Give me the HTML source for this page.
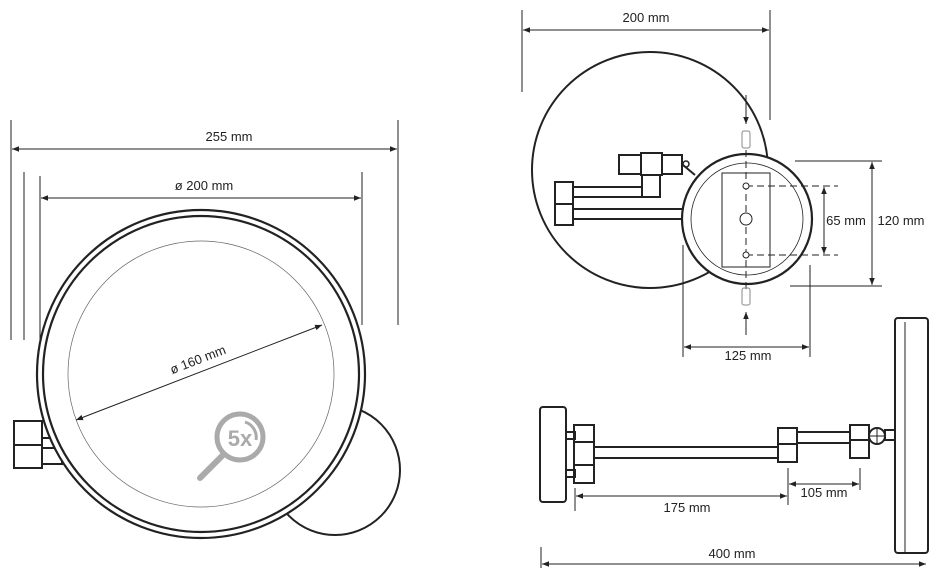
<!DOCTYPE html>
<html><head><meta charset="utf-8"><style>
html,body{margin:0;padding:0;background:#fff;}
svg{display:block;}
text{font-family:"Liberation Sans",sans-serif;fill:#222;}
</style></head><body>
<svg width="940" height="577" viewBox="0 0 940 577" xmlns="http://www.w3.org/2000/svg">
<defs>
<marker id="a" viewBox="0 0 10 10" refX="10" refY="5" markerWidth="7" markerHeight="7" orient="auto-start-reverse"><path d="M0,1 L10,5 L0,9 z" fill="#222"/></marker>
</defs>
<g stroke="#222" fill="none">
<!-- LEFT VIEW -->
<g stroke-width="1">
<line x1="11" y1="120" x2="11" y2="340"/>
<line x1="398" y1="120" x2="398" y2="325"/>
<line x1="24" y1="172" x2="24" y2="340"/>
<line x1="40" y1="176" x2="40" y2="345"/>
<line x1="362" y1="172" x2="362" y2="325"/>
<line x1="12" y1="149" x2="397" y2="149" marker-start="url(#a)" marker-end="url(#a)"/>
<line x1="41" y1="198" x2="361" y2="198" marker-start="url(#a)" marker-end="url(#a)"/>
</g>
<circle cx="335" cy="470" r="65" stroke-width="2" fill="#fff"/>
<rect x="14" y="421" width="28" height="24" stroke-width="2" fill="#fff"/>
<rect x="14" y="445" width="28" height="23" stroke-width="2" fill="#fff"/>
<rect x="42" y="438" width="20" height="10" stroke-width="2" fill="#fff"/>
<rect x="42" y="448" width="20" height="16" stroke-width="2" fill="#fff"/>
<circle cx="201" cy="374" r="164" stroke-width="2.2" fill="#fff"/>
<circle cx="201" cy="374" r="158" stroke-width="2.2"/>
<circle cx="201" cy="374" r="133" stroke-width="0.7" stroke="#666"/>
<line x1="76" y1="420" x2="322" y2="325" stroke-width="1" marker-start="url(#a)" marker-end="url(#a)"/>
<!-- 5x icon -->
<circle cx="240" cy="437" r="23" stroke="#aaa" stroke-width="5"/>
<line x1="222" y1="456" x2="200" y2="478" stroke="#aaa" stroke-width="6" stroke-linecap="round"/>
<path d="M245,422 A16,16 0 0 1 256,440" stroke="#aaa" stroke-width="3"/>

<!-- TOP RIGHT VIEW -->
<g stroke-width="1">
<line x1="522" y1="10" x2="522" y2="92"/>
<line x1="770" y1="10" x2="770" y2="120"/>
<line x1="523" y1="30" x2="769" y2="30" marker-start="url(#a)" marker-end="url(#a)"/>
</g>
<circle cx="650" cy="170" r="118" stroke-width="2" fill="#fff"/>
<rect x="619" y="155" width="22" height="19" stroke-width="2" fill="#fff"/>
<rect x="641" y="153" width="21" height="22" stroke-width="2" fill="#fff"/>
<rect x="662" y="155" width="20" height="19" stroke-width="2" fill="#fff"/>
<rect x="642" y="175" width="18" height="22" stroke-width="2" fill="#fff"/>
<line x1="683" y1="165" x2="695" y2="175" stroke-width="2"/>
<circle cx="686" cy="164" r="3" stroke-width="1.5"/>
<rect x="555" y="182" width="18" height="22" stroke-width="2" fill="#fff"/>
<rect x="555" y="204" width="18" height="21" stroke-width="2" fill="#fff"/>
<rect x="573" y="187" width="69" height="10" stroke-width="2" fill="#fff"/>
<rect x="573" y="209" width="112" height="10" stroke-width="2" fill="#fff"/>
<circle cx="747" cy="219" r="65" stroke-width="2.2" fill="#fff"/>
<circle cx="747" cy="219" r="56" stroke-width="0.8"/>
<rect x="722" y="173" width="48" height="94" stroke-width="1"/>
<line x1="746" y1="150" x2="746" y2="290" stroke-width="1" stroke-dasharray="7,4"/>
<line x1="746" y1="186" x2="838" y2="186" stroke-width="1" stroke-dasharray="7,4"/>
<line x1="746" y1="255" x2="838" y2="255" stroke-width="1" stroke-dasharray="7,4"/>
<circle cx="746" cy="186" r="3" stroke-width="1" fill="#fff"/>
<circle cx="746" cy="255" r="3" stroke-width="1" fill="#fff"/>
<circle cx="746" cy="219" r="6" stroke-width="1" fill="#fff"/>
<g stroke-width="1">
<line x1="746" y1="95" x2="746" y2="124" marker-end="url(#a)"/>
<rect x="742" y="131" width="8" height="17" rx="2" stroke="#888"/>
<rect x="742" y="288" width="8" height="17" rx="2" stroke="#888"/>
<line x1="746" y1="335" x2="746" y2="312" marker-end="url(#a)"/>
<line x1="795" y1="161" x2="882" y2="161"/>
<line x1="790" y1="286" x2="882" y2="286"/>
<line x1="872" y1="162" x2="872" y2="285" marker-start="url(#a)" marker-end="url(#a)"/>
<line x1="824" y1="187" x2="824" y2="254" marker-start="url(#a)" marker-end="url(#a)"/>
<line x1="683" y1="245" x2="683" y2="357"/>
<line x1="810" y1="265" x2="810" y2="357"/>
<line x1="684" y1="347" x2="809" y2="347" marker-start="url(#a)" marker-end="url(#a)"/>
</g>

<!-- BOTTOM VIEW -->
<rect x="540" y="407" width="26" height="95" rx="3" stroke-width="2" fill="#fff"/>
<rect x="566" y="432" width="9" height="7" stroke-width="2"/>
<rect x="566" y="470" width="9" height="7" stroke-width="2"/>
<rect x="574" y="425" width="20" height="17" stroke-width="2"/>
<rect x="574" y="442" width="20" height="23" stroke-width="2"/>
<rect x="574" y="465" width="20" height="18" stroke-width="2"/>
<rect x="594" y="447" width="184" height="11" stroke-width="2"/>
<rect x="778" y="428" width="19" height="16" stroke-width="2"/>
<rect x="778" y="444" width="19" height="18" stroke-width="2"/>
<rect x="797" y="432" width="53" height="11" stroke-width="2"/>
<rect x="850" y="425" width="19" height="15" stroke-width="2"/>
<rect x="850" y="440" width="19" height="18" stroke-width="2"/>
<circle cx="877" cy="436" r="8" stroke-width="2"/>
<line x1="869" y1="436" x2="885" y2="436" stroke-width="1"/>
<line x1="877" y1="428" x2="877" y2="444" stroke-width="1"/>
<rect x="885" y="430" width="10" height="10" stroke-width="2"/>
<rect x="895" y="318" width="33" height="235" rx="3" stroke-width="2"/>
<line x1="905" y1="322" x2="905" y2="552" stroke-width="1"/>
<g stroke-width="1">
<line x1="575" y1="488" x2="575" y2="511"/>
<line x1="788" y1="468" x2="788" y2="505"/>
<line x1="860" y1="468" x2="860" y2="490"/>
<line x1="576" y1="496" x2="787" y2="496" marker-start="url(#a)" marker-end="url(#a)"/>
<line x1="789" y1="484" x2="859" y2="484" marker-start="url(#a)" marker-end="url(#a)"/>
<line x1="541" y1="547" x2="541" y2="568"/>
<line x1="542" y1="564" x2="926" y2="564" marker-start="url(#a)" marker-end="url(#a)"/>
</g>
</g>
<g font-size="13">
<text x="229" y="141" text-anchor="middle">255 mm</text>
<text x="204" y="190" text-anchor="middle">ø 200 mm</text>
<text x="198" y="364" text-anchor="middle" transform="rotate(-21 198 360)">ø 160 mm</text>
<text x="646" y="22" text-anchor="middle">200 mm</text>
<text x="846" y="225" text-anchor="middle">65 mm</text>
<text x="901" y="225" text-anchor="middle">120 mm</text>
<text x="748" y="360" text-anchor="middle">125 mm</text>
<text x="687" y="512" text-anchor="middle">175 mm</text>
<text x="824" y="497" text-anchor="middle">105 mm</text>
<text x="732" y="558" text-anchor="middle">400 mm</text>
</g>
<text x="240" y="446" font-size="22" font-weight="bold" fill="#aaa" text-anchor="middle" style="fill:#aaa">5x</text>
</svg>
</body></html>
